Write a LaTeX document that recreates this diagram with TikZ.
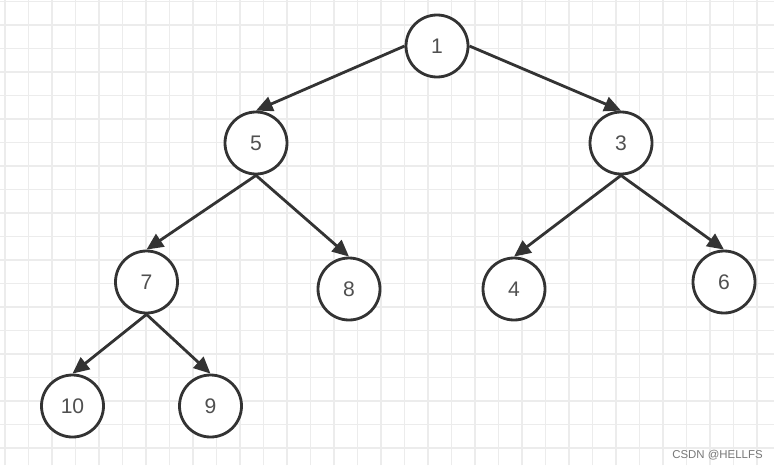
\documentclass[tikz,border=0pt]{standalone}
\usepackage{fontspec}
\setmainfont{Liberation Sans}
\usepackage{xcolor}
\definecolor{gridgray}{RGB}{236, 236, 236}
\definecolor{edgegray}{RGB}{51, 51, 51}
\definecolor{textgray}{RGB}{80, 80, 80}
\definecolor{markgray}{RGB}{120, 120, 120}
\usetikzlibrary{arrows.meta}

\begin{document}
\begin{tikzpicture}[
    heapnode/.style={draw=edgegray, circle, line width=1.6pt, minimum size=1.24cm, inner sep=0pt, fill=white, text=textgray, font=\fontsize{12}{14}\selectfont},
    heapedge/.style={edgegray, line width=1.6pt, -{Triangle[length=9.5pt, width=8.5pt]}}
]
    % Paper background
    \fill[white] (0, 0) rectangle (15.48, 9.4);
    \useasboundingbox (0, 0) rectangle (15.48, 9.4);
    \foreach \k in {0,...,32}
        \draw[gridgray, line width=1.1pt] ({0.1+0.47*\k}, 0.1) -- ({0.1+0.47*\k}, 9.4);
    \foreach \j in {0,...,19}
        \draw[gridgray, line width=1.1pt] (0, {9.37-0.47*\j}) -- (15.48, {9.37-0.47*\j});

    % Heap nodes
    \node[heapnode] (n1) at (8.74, 8.48) {1};
    \node[heapnode] (n5) at (5.12, 6.54) {5};
    \node[heapnode] (n3) at (12.42, 6.54) {3};
    \node[heapnode] (n7) at (2.93, 3.76) {7};
    \node[heapnode] (n8) at (6.98, 3.62) {8};
    \node[heapnode] (n4) at (10.28, 3.62) {4};
    \node[heapnode] (n6) at (14.48, 3.76) {6};
    \node[heapnode] (n10) at (1.45, 1.28) {10};
    \node[heapnode] (n9) at (4.21, 1.28) {9};

    % Parent to child
    \draw[heapedge] (n1.west) -- (n5.north);
    \draw[heapedge] (n1.east) -- (n3.north);
    \draw[heapedge] (n5.south) -- (n7.north);
    \draw[heapedge] (n5.south) -- (n8.north);
    \draw[heapedge] (n3.south) -- (n4.north);
    \draw[heapedge] (n3.south) -- (n6.north);
    \draw[heapedge] (n7.south) -- (n10.north);
    \draw[heapedge] (n7.south) -- (n9.north);

    % Watermark
    \node[markgray, font=\fontsize{6.5}{8}\selectfont] (mark) at (14.35, 0.3) {CSDN @HELLFS};
\end{tikzpicture}
\end{document}
